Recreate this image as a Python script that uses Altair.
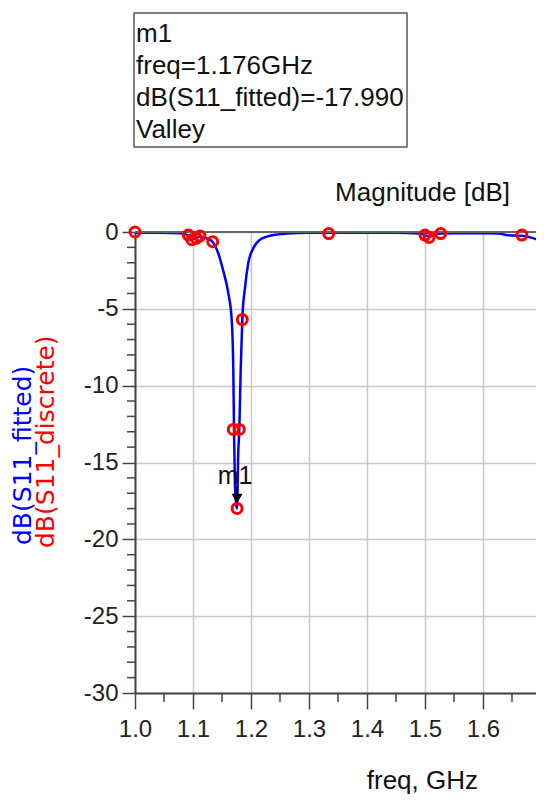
import altair as alt
import pandas as pd

# ---------------- data ----------------
FREQ_FIT = [1.000, 1.040, 1.080, 1.090, 1.098, 1.104, 1.110, 1.118, 1.126, 1.134,
            1.1437, 1.152, 1.161, 1.1667, 1.1695, 1.1707, 1.1724, 1.1745, 1.176,
            1.178, 1.1798, 1.1822, 1.185, 1.1897, 1.1954, 1.204, 1.2155, 1.2385,
            1.2615, 1.300, 1.350, 1.400, 1.450, 1.490, 1.500, 1.507, 1.515, 1.527,
            1.560, 1.600, 1.628, 1.640, 1.667, 1.690, 1.705]
DB_FIT = [-0.05, -0.05, -0.08, -0.2, -0.45, -0.45, -0.3, -0.35, -0.45, -0.65,
          -1.4, -2.5, -4.0, -5.7, -9.0, -12.9, -16.6, -17.7, -17.99,
          -14.4, -12.9, -9.0, -5.7, -3.6, -2.0, -1.05, -0.5, -0.2,
          -0.1, -0.05, -0.05, -0.05, -0.05, -0.1, -0.2, -0.3, -0.2, -0.1,
          -0.08, -0.08, -0.1, -0.2, -0.25, -0.45, -0.65]

FREQ_PTS = [1.000, 1.092, 1.098, 1.106, 1.112, 1.134, 1.1695, 1.1798, 1.176,
            1.185, 1.334, 1.500, 1.507, 1.527, 1.667]
DB_PTS = [0.0, -0.2, -0.5, -0.4, -0.26, -0.63, -12.85, -12.85, -17.99,
          -5.7, -0.1, -0.2, -0.35, -0.1, -0.2]

X_MAJOR = [1.0, 1.1, 1.2, 1.3, 1.4, 1.5, 1.6]
X_MINOR = [1.05, 1.15, 1.25, 1.35, 1.45, 1.55, 1.65]
Y_MAJOR = [0, -5, -10, -15, -20, -25, -30]
Y_MINOR = [-1, -2, -3, -4, -6, -7, -8, -9, -11, -12, -13, -14, -16, -17, -18, -19,
           -21, -22, -23, -24, -26, -27, -28, -29]
X_DOMAIN = [1.0, 1.6914]
Y_DOMAIN = [-30, 0]

MARKER_FREQ = [1.176]
MARKER_DB = [-17.99]
MARKER_NAME = ["m1"]
BOX_LINES = ["m1", "freq=1.176GHz", "dB(S11_fitted)=-17.990", "Valley"]
TOP_TITLE = ["Magnitude [dB]"]
X_TITLE = ["freq, GHz"]
Y_TITLES = ["dB(S11_fitted)", "dB(S11_discrete)"]

# ---------------- styling ----------------
FONT = "Liberation Sans, Arial, sans-serif"
WIDE = "DejaVu Sans, sans-serif"
W, H = 401, 461

fit = pd.DataFrame({"freq": FREQ_FIT, "db": DB_FIT})
pts = pd.DataFrame({"freq": FREQ_PTS, "db": DB_PTS})
mk = pd.DataFrame({"freq": MARKER_FREQ, "db": MARKER_DB, "name": MARKER_NAME})
xmin = pd.DataFrame({"freq": X_MINOR})
ymin = pd.DataFrame({"db": Y_MINOR})
one = pd.DataFrame({"a": [0]})

xs = alt.Scale(domain=X_DOMAIN, nice=False, zero=False)
ys = alt.Scale(domain=Y_DOMAIN, nice=False, zero=False)

x_major = alt.Axis(values=X_MAJOR, title=None, grid=True, gridColor="#c8c8c8",
                   gridWidth=1.5, domainColor="#444", domainWidth=2,
                   tickColor="#444", tickWidth=1.5, tickSize=16,
                   labelExpr="format(datum.value, '.1f')", labelFont=FONT,
                   labelFontSize=24, labelColor="#222", labelPadding=8,
                   labelFlush=False, labelOverlap=False)
y_major = alt.Axis(values=Y_MAJOR, title=None, grid=True, gridColor="#c8c8c8",
                   gridWidth=1.5, domainColor="#444", domainWidth=2,
                   tickColor="#444", tickWidth=1.5, tickSize=13,
                   labelExpr="'' + datum.value", labelFont=FONT,
                   labelFontSize=24, labelColor="#222", labelPadding=4,
                   labelFlush=False, labelOverlap=False)

line = alt.Chart(fit).mark_line(color="#0000ff", strokeWidth=2.5, clip=True,
                                interpolate="monotone").encode(
    x=alt.X("freq:Q", scale=xs, axis=x_major),
    y=alt.Y("db:Q", scale=ys, axis=y_major),
)

points = alt.Chart(pts).mark_point(filled=False, color="#ff0000", size=100,
                                   strokeWidth=3, opacity=1).encode(
    x=alt.X("freq:Q", scale=xs),
    y=alt.Y("db:Q", scale=ys),
)

x_minor_ticks = alt.Chart(xmin).mark_tick(orient="vertical", color="#444",
                                          thickness=1.5, size=9, yOffset=4.5,
                                          opacity=1).encode(
    x=alt.X("freq:Q", scale=xs), y=alt.datum(-30, scale=ys))
y_minor_ticks = alt.Chart(ymin).mark_tick(orient="horizontal", color="#444",
                                          thickness=1.5, size=8, xOffset=-4,
                                          opacity=1).encode(
    y=alt.Y("db:Q", scale=ys), x=alt.datum(1.0, scale=xs))

top_rule = alt.Chart(one).mark_rule(color="#666", strokeWidth=2).encode(
    y=alt.datum(0, scale=ys))

stem = alt.Chart(mk).mark_rule(color="black", strokeWidth=2, yOffset=-22,
                               y2Offset=-14).encode(
    x=alt.X("freq:Q", scale=xs), y=alt.Y("db:Q", scale=ys), y2="db:Q")
tri = alt.Chart(mk).mark_point(shape="triangle-down", filled=True, color="black",
                               size=120, opacity=1, yOffset=-10).encode(
    x=alt.X("freq:Q", scale=xs), y=alt.Y("db:Q", scale=ys))
mlabel = alt.Chart(mk).mark_text(font=FONT, fontSize=25, color="#111",
                                 dy=-32, dx=-2, baseline="middle").encode(
    x=alt.X("freq:Q", scale=xs), y=alt.Y("db:Q", scale=ys), text="name:N")

box = alt.Chart(one).mark_rect(fill="white", stroke="#555", strokeWidth=1.5).encode(
    x=alt.value(-1), x2=alt.value(272), y=alt.value(-219), y2=alt.value(-85))
box_text = alt.Chart(one).mark_text(font=FONT, fontSize=26, color="#111",
                                    align="left", baseline="alphabetic",
                                    lineHeight=32).encode(
    x=alt.value(1), y=alt.value(-190), text=alt.value(BOX_LINES))

top_title = alt.Chart(pd.DataFrame({"t": TOP_TITLE})).mark_text(
    font=FONT, fontSize=26, color="#111", align="right",
    baseline="alphabetic").encode(x=alt.value(375), y=alt.value(-31), text="t:N")
x_title = alt.Chart(pd.DataFrame({"t": X_TITLE})).mark_text(
    font=FONT, fontSize=26, color="#111", align="right",
    baseline="alphabetic").encode(x=alt.value(343), y=alt.value(557), text="t:N")
y_title1 = alt.Chart(pd.DataFrame({"t": [Y_TITLES[0]]})).mark_text(
    font=WIDE, fontSize=25, color="#0000ff", align="left", baseline="middle",
    angle=270).encode(x=alt.value(-112), y=alt.value(313), text="t:N")
y_title2 = alt.Chart(pd.DataFrame({"t": [Y_TITLES[1]]})).mark_text(
    font=WIDE, fontSize=25, color="#ff0000", align="left", baseline="middle",
    angle=270).encode(x=alt.value(-89), y=alt.value(316), text="t:N")

chart = alt.layer(
    line, top_rule, x_minor_ticks, y_minor_ticks, points, stem, tri, mlabel,
    box, box_text, top_title, x_title, y_title1, y_title2,
).properties(
    width=W, height=H,
    autosize=alt.AutoSizeParams(type="none"),
    padding={"left": 127, "top": 224, "right": 0, "bottom": 107},
    background="white",
).configure_view(stroke=None)

chart.save("out.html", embed_options={"renderer": "svg", "actions": False})
